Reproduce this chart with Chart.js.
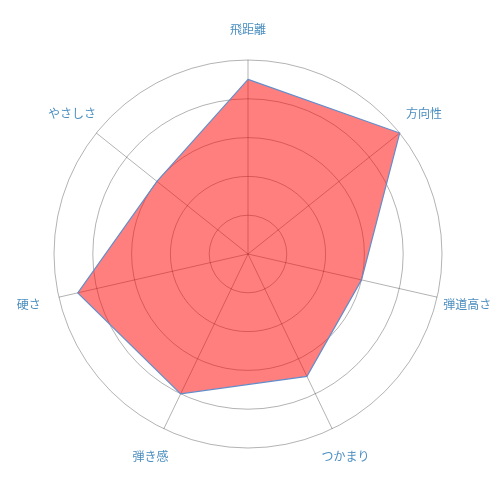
<!DOCTYPE html>
<html>
<head>
<meta charset="utf-8">
<script src="https://cdn.jsdelivr.net/npm/chart.js@4"></script>
<style>
  html, body { margin: 0; padding: 0; background: #fff; }
  #wrap { width: 500px; height: 500px; }
</style>
</head>
<body>
<div id="wrap"><canvas id="chart"></canvas></div>
<script>
const labels = ['飛距離', '方向性', '弾道高さ', 'つかまり', '弾き感', '硬さ', 'やさしさ']
const scores = [4.5, 5.0, 3.0, 3.5, 4.0, 4.5, 3.0]

// point labels are centred on a ring just outside the grid, like the original
const centredLabels = {
  id: 'centredLabels',
  afterDraw(chart) {
    const scale = chart.scales.r
    const c = chart.ctx
    c.save()
    c.font = '12px "Noto Sans CJK JP"'
    c.fillStyle = '#4a8ec0'
    c.textAlign = 'center'
    c.textBaseline = 'middle'
    labels.forEach((text, i) => {
      const p = scale.getPointPosition(i, scale.drawingArea + 31)
      c.fillText(text, p.x, p.y)
    })
    c.restore()
  }
}

let ctx = document.getElementById('chart')
let myChart = new Chart(ctx, {
  type: 'radar',
  data: {
    labels: labels,
    datasets: [{
      data: scores,
      backgroundColor: 'rgba(255, 0, 0, 0.5)',
      borderColor: 'rgba(100, 140, 200, 1)',
      borderWidth: 1.2,
      pointRadius: 0,
      fill: true
    }]
  },
  options: {
    responsive: true,
    maintainAspectRatio: false,
    animation: false,
    layout: { padding: { top: 60, bottom: 52, left: 54, right: 58 } },
    plugins: { legend: { display: false }, tooltip: { enabled: false } },
    scales: {
      r: {
        min: 0,
        max: 5,
        ticks: { display: false, stepSize: 1 },
        grid: { circular: true, color: 'rgba(0, 0, 0, 0.3)' },
        angleLines: { color: 'rgba(0, 0, 0, 0.3)' },
        pointLabels: { display: false }
      }
    }
  },
  plugins: [centredLabels]
})
</script>
</body>
</html>
